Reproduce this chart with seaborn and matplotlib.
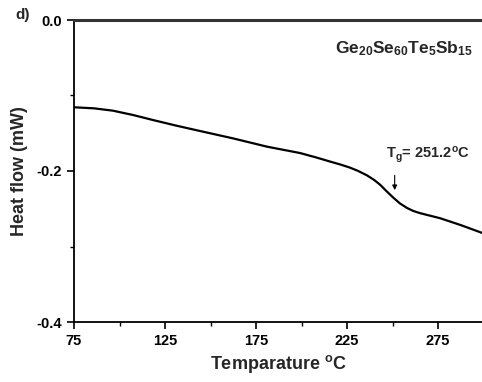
import matplotlib
matplotlib.use("Agg")
import matplotlib.pyplot as plt
import seaborn as sns
import pandas as pd
from matplotlib.ticker import MultipleLocator

temperature = [75.0, 86.0, 96.4, 107.4, 118.4, 131.0, 144.2, 162.4, 181.1, 199.2,
               208.0, 215.7, 221.5, 226.6, 231.0, 236.0, 240.0, 243.1, 246.5, 250.3,
               254.0, 258.0, 261.5, 265.1, 270.0, 276.1, 287.7, 300.0]
heat_flow = [-0.1156, -0.1170, -0.1201, -0.1258, -0.1325, -0.1398, -0.1470, -0.1568,
             -0.1678, -0.1762, -0.1820, -0.1875, -0.1915, -0.1955, -0.1998, -0.2058,
             -0.2120, -0.2180, -0.2262, -0.2350, -0.2428, -0.2490, -0.2530, -0.2558,
             -0.2588, -0.2625, -0.2718, -0.2827]
x_ticks = [75, 125, 175, 225, 275]
y_ticks = [0.0, -0.2, -0.4]
tg_value = 251.2
composition = r"Ge$_{20}$Se$_{60}$Te$_{5}$Sb$_{15}$"

sns.set_theme(style="ticks")
plt.rcParams["font.family"] = ["Liberation Sans", "DejaVu Sans"]
plt.rcParams["font.weight"] = "bold"
plt.rcParams["mathtext.fontset"] = "custom"
plt.rcParams["mathtext.rm"] = "Liberation Sans:bold"
plt.rcParams["mathtext.bf"] = "Liberation Sans:bold"
plt.rcParams["mathtext.it"] = "Liberation Sans:bold"
plt.rcParams["mathtext.default"] = "bf"

df = pd.DataFrame({"T": temperature, "HF": heat_flow})

fig = plt.figure(figsize=(4.82, 3.82), dpi=100)
ax = fig.add_axes([74 / 482, 1 - 322 / 382, (483.5 - 74) / 482, (322 - 20) / 382])
sns.lineplot(data=df, x="T", y="HF", ax=ax, color="black", linewidth=1.6, legend=False)

ax.set_xlim(75, 300)
ax.set_ylim(-0.4, 0.0)
ax.set_xticks(x_ticks)
ax.set_xticklabels([str(t) for t in x_ticks])
ax.set_yticks(y_ticks)
ax.set_yticklabels(["0.0", "-0.2", "-0.4"])
ax.xaxis.set_minor_locator(MultipleLocator(25))
ax.yaxis.set_minor_locator(MultipleLocator(0.1))
ax.tick_params(axis="both", which="major", direction="out", length=5, width=1.2,
               labelsize=10.5, color="black", labelcolor="black")
ax.tick_params(axis="both", which="minor", direction="out", length=3, width=1.0, color="black")
for lbl in ax.get_xticklabels() + ax.get_yticklabels():
    lbl.set_fontweight("bold")

for side in ["left", "bottom", "right"]:
    ax.spines[side].set_linewidth(1.3)
    ax.spines[side].set_color("black")
ax.spines["top"].set_linewidth(2.2)
ax.spines["top"].set_color("#333333")

ax.set_xlabel(r"Temparature $^{\mathregular{o}}$C", fontsize=13, fontweight="bold", labelpad=4)
ax.set_ylabel("Heat flow (mW)", fontsize=13, fontweight="bold", labelpad=6)

ax.text(0.975, 0.905, composition, transform=ax.transAxes, ha="right", va="center",
        fontsize=12.5, fontweight="bold")

ax.annotate("", xy=(tg_value, -0.229), xytext=(tg_value, -0.202),
            arrowprops=dict(arrowstyle="-|>", color="black", lw=0.8, mutation_scale=7))
ax.text(tg_value - 5, -0.178, r"T$_g$= " + f"{tg_value}" + r"$^{\mathregular{o}}$C",
        ha="left", va="center", fontsize=10.5, fontweight="bold")

fig.text(15 / 482, 1 - 15 / 382, "d)", fontsize=11, fontweight="bold", va="center", ha="left")

fig.savefig("out.png", dpi=100)
